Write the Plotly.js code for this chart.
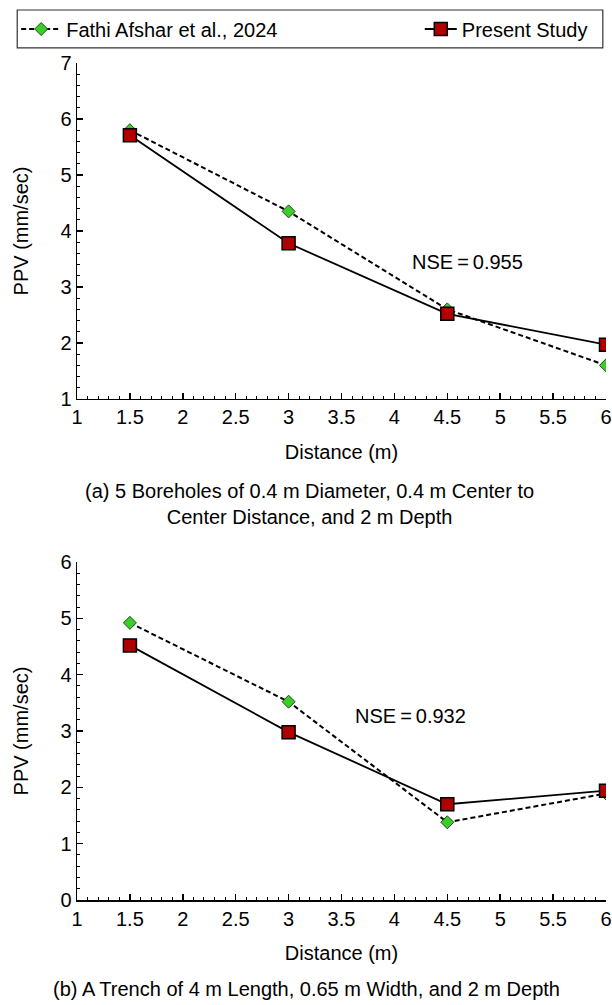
<!DOCTYPE html>
<html>
<head>
<meta charset="utf-8">
<script src="https://cdn.plot.ly/plotly-3.0.1.min.js"></script>
<style>html,body{margin:0;padding:0;background:#fff;}#chart{width:612px;height:1005px;}</style>
</head>
<body>
<div id="chart"></div>
<script>
// Data
const distance = [1.5, 3, 4.5, 6];
const fathiA = [5.80, 4.35, 2.60, 1.60];
const presentA = [5.71, 3.78, 2.52, 1.97];
const fathiB = [4.92, 3.52, 1.38, 1.89];
const presentB = [4.52, 2.98, 1.70, 1.94];
const seriesNames = ["Fathi Afshar et al., 2024", "Present Study"];
const nseA = "NSE\u2009=\u20090.955";
const nseB = "NSE\u2009=\u20090.932";
const captionA = "(a) 5 Boreholes of 0.4 m Diameter, 0.4 m Center to<br>Center Distance, and 2 m Depth";
const captionB = "(b) A Trench of 4 m Length, 0.65 m Width, and 2 m Depth";
const xTitle = "Distance (m)";
const yTitle = "PPV (mm/sec)";

const FONT = "Arial, 'Liberation Sans', sans-serif";
const FS = 20;

const fathiStyle = {
  mode: "lines+markers",
  line: {color: "#000", width: 2, dash: "5px,3px"},
  marker: {symbol: "diamond", size: 10, color: "#3ccc2c", line: {color: "#1d4d12", width: 1}}
};
const presentStyle = {
  mode: "lines+markers",
  line: {color: "#000", width: 1.8},
  marker: {symbol: "square", size: 13, color: "#b00000", line: {color: "#000", width: 1.5}}
};

const traces = [
  Object.assign({x: distance, y: fathiA, name: seriesNames[0], xaxis: "x", yaxis: "y", legend: "legend", showlegend: true}, fathiStyle),
  Object.assign({x: distance, y: presentA, name: seriesNames[1], xaxis: "x", yaxis: "y", legend: "legend2", showlegend: true}, presentStyle),
  Object.assign({x: distance, y: fathiB, name: seriesNames[0], xaxis: "x2", yaxis: "y2", showlegend: false}, fathiStyle),
  Object.assign({x: distance, y: presentB, name: seriesNames[1], xaxis: "x2", yaxis: "y2", showlegend: false}, presentStyle)
];

function xAxis(anchor) {
  return {
    anchor: anchor, domain: [0, 1], range: [1, 6], dtick: 0.5, tick0: 1,
    ticks: "inside", ticklen: 6, tickwidth: 1.5, tickcolor: "#000",
    minor: {dtick: 0.1, ticks: "inside", ticklen: 3, tickwidth: 1, tickcolor: "#000", showgrid: false},
    showline: true, linecolor: "#000", linewidth: 1.5, mirror: false,
    showgrid: false, zeroline: false,
    tickfont: {family: FONT, size: FS, color: "#000"},
    title: {text: xTitle, font: {family: FONT, size: FS, color: "#000"}, standoff: 17},
    automargin: false
  };
}
function yAxis(anchor, domain, range) {
  return {
    anchor: anchor, domain: domain, range: range, dtick: 1,
    ticks: "inside", ticklen: 6, tickwidth: 1.5, tickcolor: "#000",
    minor: {dtick: 0.2, ticks: "inside", ticklen: 3, tickwidth: 1, tickcolor: "#000", showgrid: false},
    showline: true, linecolor: "#000", linewidth: 1.5, mirror: false,
    showgrid: false, zeroline: false,
    tickfont: {family: FONT, size: FS, color: "#000"},
    title: {text: yTitle, font: {family: FONT, size: FS, color: "#000"}, standoff: 26},
    automargin: false
  };
}

const layout = {
  width: 612, height: 1005,
  margin: {l: 77, r: 6, t: 63, b: 105},
  paper_bgcolor: "#fff", plot_bgcolor: "#fff",
  font: {family: FONT, size: FS, color: "#000"},
  xaxis: xAxis("y"),
  yaxis: yAxis("x", [0.5986, 1], [1, 7]),
  xaxis2: xAxis("y2"),
  yaxis2: yAxis("x2", [0, 0.4038], [0, 6]),
  legend: {orientation: "h", x: -0.115, xanchor: "left", y: 1.0406, yanchor: "middle", itemwidth: 40,
           bgcolor: "rgba(0,0,0,0)", borderwidth: 0, font: {family: FONT, size: FS, color: "#000"}},
  legend2: {orientation: "h", x: 0.648, xanchor: "left", y: 1.0406, yanchor: "middle", itemwidth: 32,
           bgcolor: "rgba(0,0,0,0)", borderwidth: 0, font: {family: FONT, size: FS, color: "#000"}},
  shapes: [
    {type: "rect", xref: "paper", yref: "paper", x0: -0.113, x1: 0.994, y0: 1.018, y1: 1.0633,
     line: {color: "#333", width: 1.2}, fillcolor: "rgba(0,0,0,0)"}
  ],
  annotations: [
    {text: nseA, xref: "x", yref: "y", x: 4.69, y: 3.45, showarrow: false, font: {family: FONT, size: FS}},
    {text: nseB, xref: "x2", yref: "y2", x: 4.15, y: 3.27, showarrow: false, font: {family: FONT, size: FS}},
    {text: captionA, xref: "paper", yref: "paper", x: 0.44, y: 0.473, showarrow: false,
     font: {family: FONT, size: FS}, align: "center"},
    {text: captionB, xref: "paper", yref: "paper", x: 0.433, y: -0.122, showarrow: false,
     font: {family: FONT, size: FS}, align: "center"}
  ]
};

Plotly.newPlot("chart", traces, layout, {staticPlot: true, displayModeBar: false});
</script>
</body>
</html>
